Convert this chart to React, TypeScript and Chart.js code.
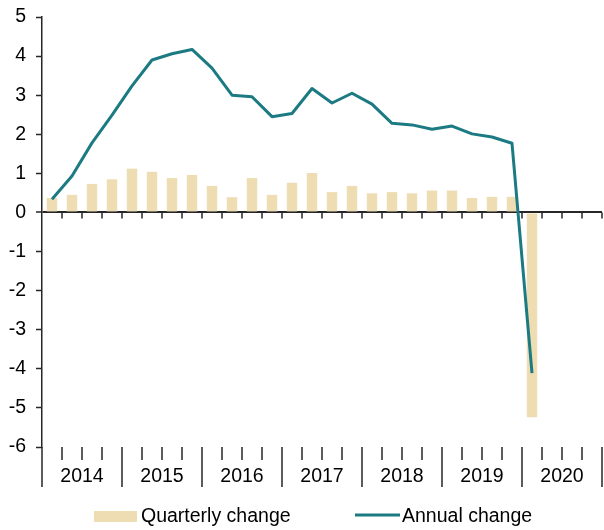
import React, { useEffect, useRef } from 'react';
import { Chart, registerables } from 'chart.js';

Chart.register(...registerables);

const quarters: string[] = [
  '2014Q1', '2014Q2', '2014Q3', '2014Q4',
  '2015Q1', '2015Q2', '2015Q3', '2015Q4',
  '2016Q1', '2016Q2', '2016Q3', '2016Q4',
  '2017Q1', '2017Q2', '2017Q3', '2017Q4',
  '2018Q1', '2018Q2', '2018Q3', '2018Q4',
  '2019Q1', '2019Q2', '2019Q3', '2019Q4',
  '2020Q1', '2020Q2', '2020Q3', '2020Q4',
];

const years: string[] = ['2014', '2015', '2016', '2017', '2018', '2019', '2020'];

const quarterlyChange: (number | null)[] = [
  0.37, 0.45, 0.73, 0.85,
  1.12, 1.04, 0.88, 0.96,
  0.68, 0.39, 0.88, 0.45,
  0.76, 1.01, 0.52, 0.68,
  0.49, 0.52, 0.49, 0.56,
  0.56, 0.37, 0.40, 0.40,
  -5.24, null, null, null,
];

const annualChange: (number | null)[] = [
  0.34, 0.93, 1.78, 2.49,
  3.24, 3.90, 4.06, 4.17,
  3.69, 3.00, 2.96, 2.45,
  2.53, 3.17, 2.80, 3.05,
  2.77, 2.28, 2.24, 2.13,
  2.21, 2.01, 1.93, 1.77,
  -4.11, null, null, null,
];

const seriesNames: string[] = ['Quarterly change', 'Annual change'];

const yMin = -6;
const yMax = 5;

const BAR = '#EEDCB3';
const TEAL = '#1B7A82';
const AXIS = '#262626';
const FONT = '"Liberation Sans", Arial, sans-serif';
const FONT_SIZE = 19.5;

const axisDecor = {
  id: 'axisDecor',
  afterDatasetsDraw(chart: any) {
    const { ctx, chartArea, scales } = chart;
    const x = scales.x;
    const y = scales.y;
    const step = x.getPixelForValue(1) - x.getPixelForValue(0);
    const y0 = y.getPixelForValue(0);
    const yB = chartArea.bottom;
    ctx.save();
    ctx.strokeStyle = AXIS;
    ctx.lineWidth = 1.5;
    for (let i = 0; i <= quarters.length; i++) {
      const px = x.getPixelForValue(0) - step / 2 + i * step;
      if (i > 0) {
        ctx.beginPath();
        ctx.moveTo(px, y0);
        ctx.lineTo(px, y0 + 6);
        ctx.stroke();
      }
      const isYear = i % 4 === 0;
      ctx.beginPath();
      ctx.moveTo(px, yB);
      ctx.lineTo(px, yB + (isYear ? 40 : 13));
      ctx.stroke();
    }
    ctx.fillStyle = '#000';
    ctx.font = `${FONT_SIZE}px ${FONT}`;
    ctx.textAlign = 'center';
    ctx.textBaseline = 'alphabetic';
    years.forEach((yr, k) => {
      const cx = x.getPixelForValue(k * 4) - step / 2 + 2 * step;
      ctx.fillText(yr, cx, yB + 35);
    });
    const ly = 516;
    ctx.fillStyle = BAR;
    ctx.fillRect(94, ly - 5, 43, 11);
    ctx.fillStyle = '#000';
    ctx.textAlign = 'left';
    ctx.fillText(seriesNames[0], 141, ly + 6);
    ctx.strokeStyle = TEAL;
    ctx.lineWidth = 3;
    ctx.beginPath();
    ctx.moveTo(355, ly - 1);
    ctx.lineTo(400, ly - 1);
    ctx.stroke();
    ctx.fillText(seriesNames[1], 402, ly + 6);
    ctx.restore();
  },
};

export default function App() {
  const canvasRef = useRef<HTMLCanvasElement | null>(null);

  useEffect(() => {
    document.body.style.margin = '0';
    const canvas = canvasRef.current;
    if (!canvas) return;
    const chart = new Chart(canvas, {
      type: 'bar',
      data: {
        labels: quarters,
        datasets: [
          {
            type: 'line',
            label: seriesNames[1],
            data: annualChange,
            borderColor: TEAL,
            backgroundColor: TEAL,
            borderWidth: 3,
            pointRadius: 0,
            tension: 0,
            fill: false,
            borderJoinStyle: 'round',
            order: 0,
          } as any,
          {
            type: 'bar',
            label: seriesNames[0],
            data: quarterlyChange,
            backgroundColor: BAR,
            borderWidth: 0,
            barPercentage: 0.52,
            categoryPercentage: 1,
            order: 1,
          } as any,
        ],
      },
      options: {
        animation: false,
        responsive: false,
        events: [],
        layout: { padding: { top: 17, right: 2, left: 0, bottom: 0 } },
        plugins: {
          legend: { display: false },
          tooltip: { enabled: false },
        },
        scales: {
          x: {
            type: 'category',
            offset: true,
            grid: { display: false },
            border: { display: false },
            ticks: { display: false },
            afterFit: (s: any) => {
              s.height = 83;
              s.paddingLeft = 0;
              s.paddingRight = 0;
            },
          },
          y: {
            min: yMin,
            max: yMax,
            afterFit: (s: any) => {
              s.width = 42;
              s.paddingTop = 0;
              s.paddingBottom = 0;
            },
            border: { display: true, color: AXIS, width: 1.5 },
            grid: {
              drawOnChartArea: true,
              drawTicks: true,
              tickLength: 6,
              tickColor: AXIS,
              tickWidth: 1.5,
              color: (c: any) => (c.tick && c.tick.value === 0 ? AXIS : 'rgba(0,0,0,0)'),
              lineWidth: (c: any) => (c.tick && c.tick.value === 0 ? 2 : 1),
            },
            ticks: {
              stepSize: 1,
              padding: 10,
              color: '#000',
              font: { family: FONT, size: FONT_SIZE },
            },
          },
        },
      } as any,
      plugins: [axisDecor],
    });
    return () => chart.destroy();
  }, []);

  return (
    <div style={{ position: 'absolute', left: 0, top: 0, width: 604, height: 530 }}>
      <canvas ref={canvasRef} width={604} height={530} style={{ width: 604, height: 530 }} />
    </div>
  );
}
